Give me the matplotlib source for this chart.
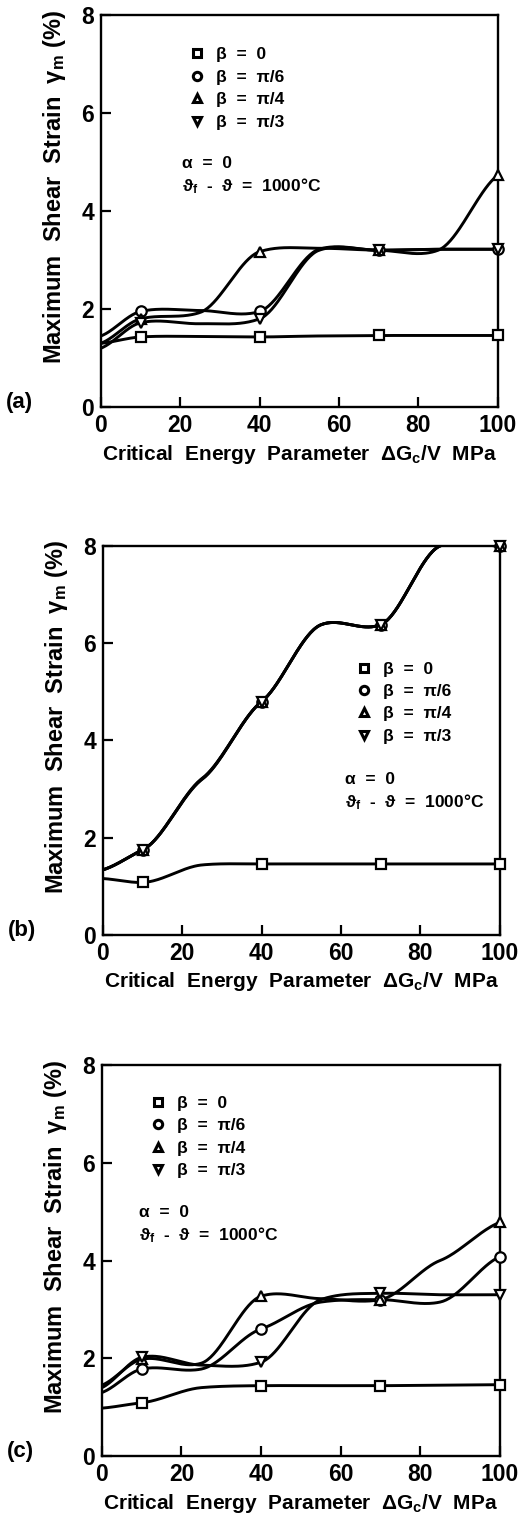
import matplotlib
matplotlib.use('Agg')
import matplotlib.pyplot as plt
from matplotlib.lines import Line2D
import numpy as np

plt.rcParams['font.family'] = ['Liberation Sans Narrow', 'Liberation Sans', 'DejaVu Sans']
plt.rcParams['font.weight'] = 'bold'
plt.rcParams['axes.labelweight'] = 'bold'
plt.rcParams['mathtext.default'] = 'regular'

# curve knots (x, MPa); markers sit at 10, 40, 70, 100
x = [0, 10, 25, 40, 55, 70, 85, 100]
marker_x = [10, 40, 70, 100]

labels = ['β  =  0', 'β  =  π/6', 'β  =  π/4', 'β  =  π/3']
markers = ['s', 'o', '^', 'v']

# panel (a)
a_b0 = [1.30, 1.43, 1.44, 1.43, 1.45, 1.46, 1.46, 1.46]
a_b6 = [1.45, 1.95, 1.97, 1.95, 3.22, 3.20, 3.22, 3.22]
a_b4 = [1.30, 1.80, 1.93, 3.17, 3.24, 3.20, 3.20, 4.73]
a_b3 = [1.20, 1.72, 1.70, 1.80, 3.20, 3.20, 3.22, 3.22]

# panel (b)
b_b0 = [1.16, 1.08, 1.44, 1.46, 1.46, 1.46, 1.46, 1.46]
b_b6 = [1.34, 1.75, 3.20, 4.80, 6.38, 6.38, 8.00, 8.00]
b_b4 = [1.34, 1.75, 3.22, 4.80, 6.38, 6.38, 8.00, 8.00]
b_b3 = [1.34, 1.75, 3.21, 4.80, 6.38, 6.38, 8.00, 8.00]

# panel (c)
c_b0 = [0.98, 1.09, 1.40, 1.44, 1.44, 1.44, 1.45, 1.46]
c_b6 = [1.30, 1.78, 1.78, 2.60, 3.15, 3.20, 3.15, 4.08]
c_b4 = [1.45, 1.98, 1.90, 3.27, 3.22, 3.20, 4.00, 4.78]
c_b3 = [1.40, 2.02, 1.86, 1.92, 3.20, 3.33, 3.30, 3.30]

panels = [
    ('(a)', [a_b0, a_b6, a_b4, a_b3], [0.194, 0.7324, 0.763, 0.2577], (0.22, 0.918), (0.205, 0.640)),
    ('(b)', [b_b0, b_b6, b_b4, b_b3], [0.198, 0.3853, 0.763, 0.2558], (0.635, 0.703), (0.610, 0.418)),
    ('(c)', [c_b0, c_b6, c_b4, c_b3], [0.196, 0.0427, 0.765, 0.2571], (0.118, 0.921), (0.093, 0.641)),
]


def smooth(xk, yk, tension=0.4, n=40):
    xk = np.asarray(xk, float)
    yk = np.asarray(yk, float)
    m = np.gradient(yk, xk) * (1 - tension)
    xs, ys = [], []
    for i in range(len(xk) - 1):
        h = xk[i + 1] - xk[i]
        t = np.linspace(0, 1, n)
        h00 = 2 * t**3 - 3 * t**2 + 1
        h10 = t**3 - 2 * t**2 + t
        h01 = -2 * t**3 + 3 * t**2
        h11 = t**3 - t**2
        xs.append(xk[i] + t * h)
        ys.append(h00 * yk[i] + h10 * h * m[i] + h01 * yk[i + 1] + h11 * h * m[i + 1])
    return np.concatenate(xs), np.concatenate(ys)


fig = plt.figure(figsize=(5.2, 15.21), dpi=100)

for tag, series, rect, leg_xy, note_xy in panels:
    ax = fig.add_axes(rect)
    for ys, mk in zip(series, markers):
        sx, sy = smooth(x, ys)
        ax.plot(sx, sy, color='black', lw=2.1, zorder=2)
        my = [ys[x.index(v)] for v in marker_x]
        ax.plot(marker_x, my, ls='none', marker=mk, ms=7.5, mfc='white',
                mec='black', mew=1.6, zorder=3, clip_on=False)

    ax.set_xlim(0, 100)
    ax.set_ylim(0, 8)
    ax.set_xticks([0, 20, 40, 60, 80, 100])
    ax.set_yticks([0, 2, 4, 6, 8])
    ax.tick_params(direction='in', length=7, width=1.6, labelsize=16.5, pad=5)
    for s in ax.spines.values():
        s.set_linewidth(1.7)

    ax.set_xlabel('Critical  Energy  Parameter  ΔG$_c$/V  MPa', fontsize=15, labelpad=4)
    ax.set_ylabel('Maximum  Shear  Strain  γ$_m$ (%)', fontsize=17)
    ax.yaxis.set_label_coords(-0.082, 0.56)

    handles = [Line2D([], [], ls='none', marker=mk, ms=6, mfc='white', mec='black', mew=2.2)
               for mk in markers]
    ax.legend(handles, labels, loc='upper left', bbox_to_anchor=leg_xy, frameon=False,
              fontsize=12.5, handlelength=1.0, handletextpad=0.6, labelspacing=0.42,
              borderpad=0, borderaxespad=0)
    ax.text(note_xy[0], note_xy[1], 'α  =  0\nϑ$_f$  -  ϑ  =  1000°C', transform=ax.transAxes,
            fontsize=12.5, va='top', ha='left', linespacing=1.35)
    ax.text(-0.205, 0.012, tag, transform=ax.transAxes, fontsize=16, ha='center', va='center')

fig.savefig('out.png', dpi=100)
